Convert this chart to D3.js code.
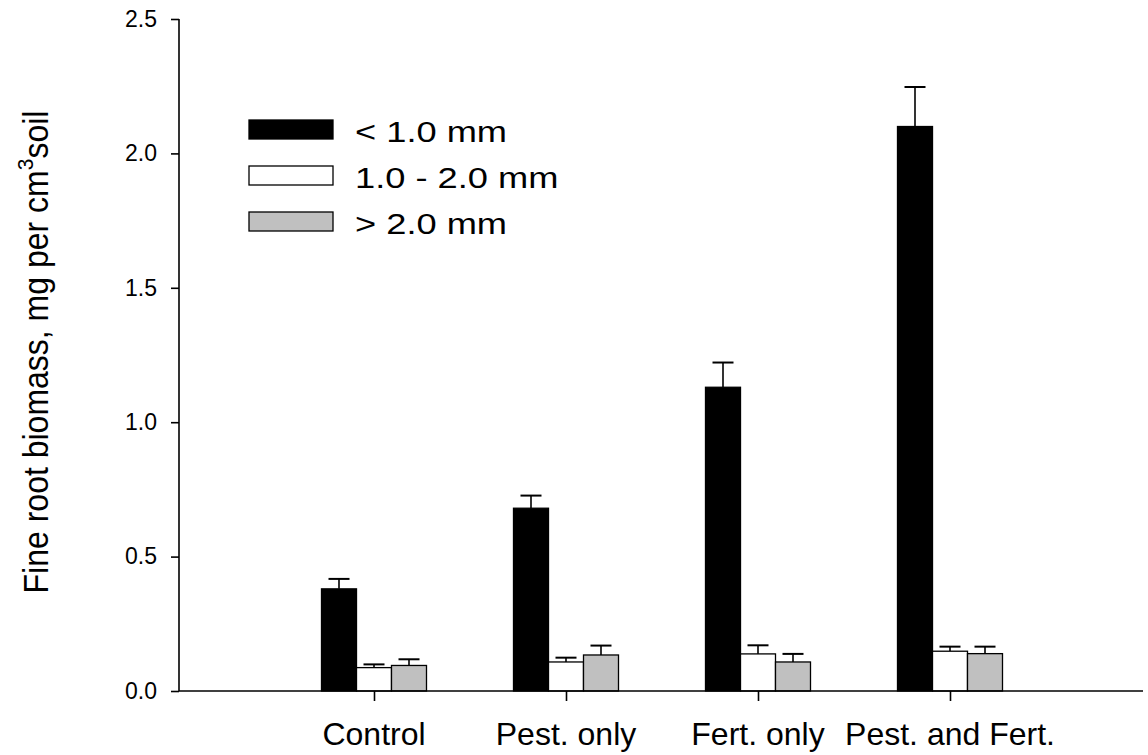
<!DOCTYPE html>
<html>
<head>
<meta charset="utf-8">
<script src="https://cdn.jsdelivr.net/npm/d3@7"></script>
<style>
  html, body { margin: 0; padding: 0; background: #fff; }
  svg { display: block; font-family: Arial, "Liberation Sans", sans-serif; }
</style>
</head>
<body>
<svg id="chart" width="1148" height="755"></svg>
<script>
// Fine root biomass by treatment and root diameter class
const categories = ["Control", "Pest. only", "Fert. only", "Pest. and Fert."];
const seriesNames = ["< 1.0 mm", "1.0 - 2.0 mm", "> 2.0 mm"];
const fineRoots   = [0.38, 0.68, 1.13, 2.10];     // < 1.0 mm
const midRoots    = [0.087, 0.108, 0.138, 0.148]; // 1.0 - 2.0 mm
const coarseRoots = [0.095, 0.134, 0.108, 0.139]; // > 2.0 mm
const fineErr   = [0.037, 0.047, 0.092, 0.147];
const midErr    = [0.012, 0.016, 0.032, 0.017];
const coarseErr = [0.023, 0.035, 0.030, 0.026];
const yTicks = [0, 0.5, 1.0, 1.5, 2.0, 2.5];

const seriesFill = ["#000000", "#ffffff", "#c0c0c0"];
const seriesValues = [fineRoots, midRoots, coarseRoots];
const seriesErrors = [fineErr, midErr, coarseErr];

const svg = d3.select("#chart");
const plotL = 179, plotR = 1143, plotT = 19, plotB = 691;

const y = d3.scaleLinear().domain([0, 2.5]).range([plotB, plotT]);
const x = d3.scalePoint().domain(categories).range([182, 1142]).padding(1);
const barW = 35;
const offset = d3.scalePoint().domain(seriesNames).range([-barW, barW]);

// one record per bar
const bars = [];
categories.forEach((c, i) => {
  seriesNames.forEach((s, j) => {
    bars.push({ cat: c, s, j, v: seriesValues[j][i], e: seriesErrors[j][i] });
  });
});

// error bars (upper half only)
const eb = svg.append("g").attr("stroke", "#000").attr("stroke-width", 1.6);
bars.forEach(d => {
  const cx = x(d.cat) + offset(d.s);
  eb.append("line").attr("x1", cx).attr("x2", cx)
    .attr("y1", y(d.v)).attr("y2", y(d.v + d.e));
  eb.append("line").attr("x1", cx - 10.5).attr("x2", cx + 10.5)
    .attr("y1", y(d.v + d.e)).attr("y2", y(d.v + d.e)).attr("stroke-width", 2);
});

svg.append("g").selectAll("rect").data(bars).join("rect")
  .attr("x", d => x(d.cat) + offset(d.s) - barW / 2)
  .attr("y", d => y(d.v))
  .attr("width", barW)
  .attr("height", d => plotB - y(d.v))
  .attr("fill", d => seriesFill[d.j])
  .attr("stroke", "#000")
  .attr("stroke-width", 1.3);

// y axis
const yAxis = svg.append("g").attr("transform", `translate(${plotL},0)`)
  .call(d3.axisLeft(y).tickValues(yTicks).tickFormat(d3.format(".1f"))
    .tickSize(8).tickPadding(14));
yAxis.attr("font-size", null).attr("font-family", null);
yAxis.select(".domain").attr("stroke-width", 1.6).attr("d", `M0,${plotT}V${plotB}`);
yAxis.selectAll(".tick line").attr("stroke-width", 1.6);
yAxis.selectAll(".tick text")
  .style("font-size", "23px").attr("fill", "#000");

// x axis
const xAxis = svg.append("g").attr("transform", `translate(0,${plotB})`)
  .call(d3.axisBottom(x).tickSize(10).tickFormat(""));
xAxis.select(".domain").attr("d", `M${plotL},0H${plotR}`).attr("stroke-width", 1.6);
xAxis.selectAll(".tick line").attr("stroke-width", 1.6);

svg.append("g").selectAll("text").data(categories).join("text")
  .attr("x", d => x(d)).attr("y", 745)
  .attr("text-anchor", "middle")
  .attr("font-size", 32)
  .text(d => d);

// y axis title
const yt = svg.append("text")
  .attr("transform", "translate(48,352) scale(1.08,1) rotate(-90)")
  .attr("text-anchor", "middle")
  .attr("font-size", 32);
yt.append("tspan").text("Fine root biomass, mg per cm");
yt.append("tspan").attr("dy", -14).attr("font-size", 21).text("3");
yt.append("tspan").attr("dy", 14).text("soil");

// legend
const lg = svg.append("g");
seriesNames.forEach((s, j) => {
  const yy = 120 + j * 46;
  lg.append("rect").attr("x", 249).attr("y", yy).attr("width", 84).attr("height", 19)
    .attr("fill", seriesFill[j]).attr("stroke", "#000").attr("stroke-width", 1.3);
  lg.append("text")
    .attr("transform", `translate(355,${yy + 22}) scale(1.25,1)`)
    .attr("font-size", 29)
    .text(s);
});
</script>
</body>
</html>
